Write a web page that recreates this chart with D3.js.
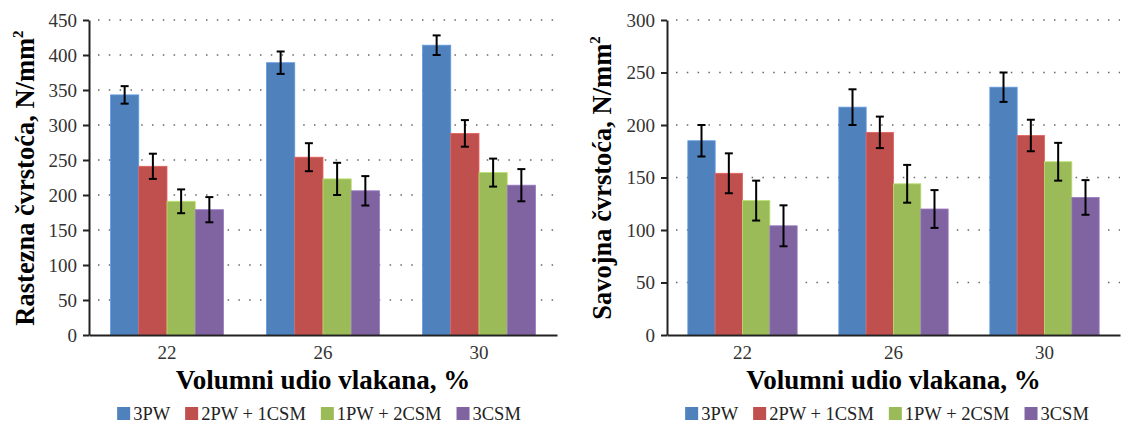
<!DOCTYPE html>
<html>
<head>
<meta charset="utf-8">
<script src="https://cdn.jsdelivr.net/npm/d3@7"></script>
<style>
  body { margin: 0; background: #fff; }
  text { font-family: "Liberation Serif", "Times New Roman", serif; }
</style>
</head>
<body>
<div id="chart"></div>
<script>
// categories and series
var categories = ["22", "26", "30"];
var seriesNames = ["3PW", "2PW + 1CSM", "1PW + 2CSM", "3CSM"];
var seriesColors = ["#4F81BD", "#C0504D", "#9BBB59", "#8064A2"];

// tensile strength (N/mm2), mean and +/- error per category
var tensile3PW = [343, 389, 414];
var tensile2PW1CSM = [241, 254, 288];
var tensile1PW2CSM = [191, 223, 232];
var tensile3CSM = [179, 206, 214];
var tensileErr3PW = [12.5, 16, 14];
var tensileErr2PW1CSM = [18, 20, 19];
var tensileErr1PW2CSM = [17, 23, 20];
var tensileErr3CSM = [18, 21, 23];

// flexural strength (N/mm2)
var flexural3PW = [185, 217, 236];
var flexural2PW1CSM = [154, 193, 190];
var flexural1PW2CSM = [128, 144, 165];
var flexural3CSM = [104, 120, 131];
var flexuralErr3PW = [15, 17, 14];
var flexuralErr2PW1CSM = [19, 15, 15];
var flexuralErr1PW2CSM = [19, 18, 18];
var flexuralErr3CSM = [19.5, 18, 16.5];

var tensileTicks = [0, 50, 100, 150, 200, 250, 300, 350, 400, 450];
var flexuralTicks = [0, 50, 100, 150, 200, 250, 300];

var width = 1121, height = 423;
var svg = d3.select("#chart").append("svg")
    .attr("width", width)
    .attr("height", height);

function drawChart(opt) {
    var g = svg.append("g");
    var x = d3.scaleBand().domain(categories)
        .range([opt.left, opt.right])
        .paddingInner(0.276).paddingOuter(0.138);
    var xs = d3.scaleBand().domain(seriesNames).range([0, x.bandwidth()]);
    var y = d3.scaleLinear().domain([0, d3.max(opt.ticks)]).range([335, 20]);

    // dotted gridlines
    g.selectAll(".grid").data(opt.ticks.filter(function(t){ return t > 0; }))
        .enter().append("line")
        .attr("x1", opt.left + 9).attr("x2", opt.right)
        .attr("y1", function(d){ return y(d); })
        .attr("y2", function(d){ return y(d); })
        .attr("stroke", "#666")
        .attr("stroke-width", 1.4)
        .attr("stroke-dasharray", "1.5,9.3");

    // rows of data: one per series
    var rows = [];
    seriesNames.forEach(function(s, i){
        categories.forEach(function(c, j){
            rows.push({s: s, c: c, v: opt.values[i][j], e: opt.errors[i][j], col: seriesColors[i]});
        });
    });

    g.selectAll(".bar").data(rows).enter().append("rect")
        .attr("x", function(d){ return x(d.c) + xs(d.s); })
        .attr("y", function(d){ return y(d.v); })
        .attr("width", xs.bandwidth())
        .attr("height", function(d){ return y(0) - y(d.v); })
        .attr("fill", function(d){ return d.col; })
        .attr("stroke", function(d){ return d3.color(d.col).brighter(0.5); })
        .attr("stroke-width", 0.8);

    // error bars
    var eb = g.selectAll(".err").data(rows).enter().append("g")
        .attr("stroke", "#000").attr("stroke-width", 2);
    eb.append("line")
        .attr("x1", function(d){ return x(d.c) + xs(d.s) + xs.bandwidth()/2; })
        .attr("x2", function(d){ return x(d.c) + xs(d.s) + xs.bandwidth()/2; })
        .attr("y1", function(d){ return y(d.v + d.e); })
        .attr("y2", function(d){ return y(d.v - d.e); });
    [1, -1].forEach(function(sgn){
        eb.append("line")
            .attr("x1", function(d){ return x(d.c) + xs(d.s) + xs.bandwidth()/2 - 4; })
            .attr("x2", function(d){ return x(d.c) + xs(d.s) + xs.bandwidth()/2 + 4; })
            .attr("y1", function(d){ return y(d.v + sgn*d.e); })
            .attr("y2", function(d){ return y(d.v + sgn*d.e); });
    });

    // axes
    var yAxis = g.append("g").attr("transform", "translate(" + opt.left + ",0)")
        .call(d3.axisLeft(y).tickValues(opt.ticks).tickSize(6).tickSizeOuter(0).tickPadding(6));
    var xAxis = g.append("g").attr("transform", "translate(0," + y(0) + ")")
        .call(d3.axisBottom(x).tickSize(0).tickPadding(11));
    [yAxis, xAxis].forEach(function(a){
        a.select(".domain").attr("stroke", "#222").attr("stroke-width", 2);
        a.selectAll(".tick line").attr("stroke", "#222").attr("stroke-width", 2);
        a.selectAll("text").attr("font-size", 19).attr("fill", "#333");
    });

    // y title
    var yt = g.append("text")
        .attr("transform", "translate(" + opt.yTitleX + ",178) rotate(-90)")
        .attr("text-anchor", "middle")
        .attr("font-size", 26.5).attr("font-weight", "bold").attr("fill", "#000");
    yt.append("tspan").text(opt.yTitle);
    yt.append("tspan").text("2").attr("font-size", 15).attr("dy", -11);

    // x title
    var mid = (opt.left + opt.right) / 2;
    g.append("text")
        .attr("x", mid).attr("y", 389)
        .attr("text-anchor", "middle")
        .attr("font-size", 27).attr("font-weight", "bold").attr("fill", "#000")
        .text("Volumni udio vlakana, %");

    // legend, laid out from measured text widths and centred
    var leg = g.append("g");
    var lx = 0;
    seriesNames.forEach(function(s, i){
        var item = leg.append("g").attr("transform", "translate(" + lx + ",0)");
        item.append("rect").attr("x", 0).attr("y", 407).attr("width", 13).attr("height", 13)
            .attr("fill", seriesColors[i]);
        var t = item.append("text").attr("x", 16).attr("y", 420)
            .attr("font-size", 18.5).attr("fill", "#222").text(s);
        lx += 16 + t.node().getComputedTextLength() + 15;
    });
    lx -= 15;
    leg.attr("transform", "translate(" + (opt.legendCenter - lx/2) + ",0)");
}

drawChart({
    left: 89, right: 557,
    ticks: tensileTicks,
    values: [tensile3PW, tensile2PW1CSM, tensile1PW2CSM, tensile3CSM],
    errors: [tensileErr3PW, tensileErr2PW1CSM, tensileErr1PW2CSM, tensileErr3CSM],
    yTitle: "Rastezna čvrstoća, N/mm",
    yTitleX: 34,
    legendCenter: 319
});

drawChart({
    left: 667, right: 1120,
    ticks: flexuralTicks,
    values: [flexural3PW, flexural2PW1CSM, flexural1PW2CSM, flexural3CSM],
    errors: [flexuralErr3PW, flexuralErr2PW1CSM, flexuralErr1PW2CSM, flexuralErr3CSM],
    yTitle: "Savojna čvrstoća, N/mm",
    yTitleX: 611,
    legendCenter: 887
});
</script>
</body>
</html>
